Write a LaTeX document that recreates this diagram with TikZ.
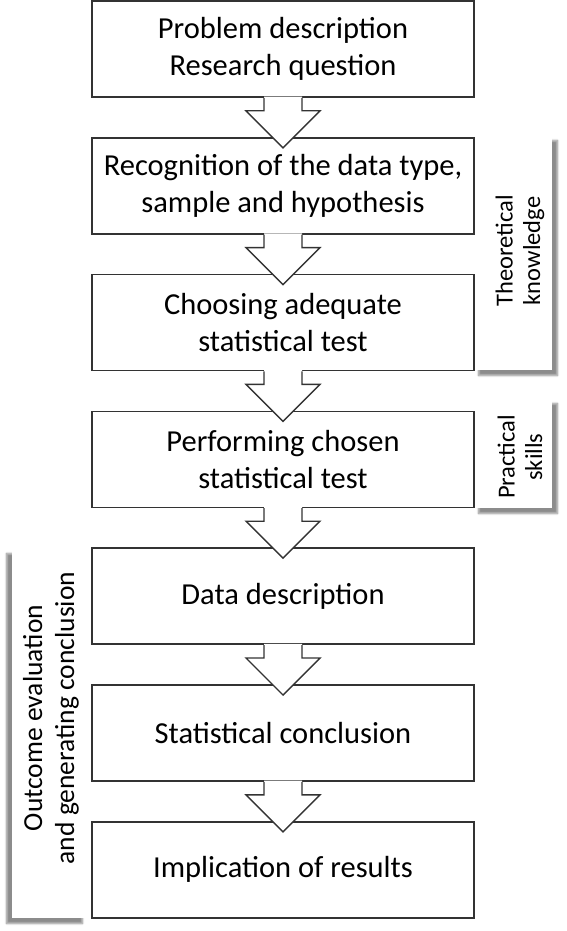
\documentclass[tikz,border=0pt]{standalone}
\usepackage{fontspec}
\setmainfont{Carlito}
\usetikzlibrary{shadows.blur}
\tikzset{
  box/.style={draw=black!80, line width=1.6pt, fill=white, minimum width=382pt,
    minimum height=96pt, align=center, inner sep=0pt,
    font=\fontsize{30.5}{37}\selectfont},
  panel/.style={fill=white, inner sep=0pt,
    blur shadow={shadow xshift=5.5pt, shadow yshift=-5.5pt, shadow blur steps=6, shadow opacity=45}},
  panelL/.style={fill=white, inner sep=0pt,
    blur shadow={shadow xshift=-5.5pt, shadow yshift=-5.5pt, shadow blur steps=6, shadow opacity=45}},
  sidetext/.style={rotate=90, align=center, inner sep=0pt},
  flowarrow/.pic={
    \fill[white] (-19,-1.2) -- (-19,13) -- (-37,13) -- (0,50) -- (37,13) -- (19,13) -- (19,-1.2) -- cycle;
    \draw[black!80, line width=1.4pt, line join=miter]
      (-19,0) -- (-19,13) -- (-37,13) -- (0,50) -- (37,13) -- (19,13) -- (19,0);
  }
}
\begin{document}
\begin{tikzpicture}[x=1pt,y=-1pt]
\useasboundingbox (0,0) rectangle (566,931);
% side panels
\node[panel, minimum width=79pt, minimum height=235pt] (p1) at (512.5,252.5) {};
\node[sidetext, font=\fontsize{24.5}{27.5}\selectfont] (t1) at (520,251) {Theoretical\\knowledge};
\node[panel, minimum width=79pt, minimum height=110pt] (p2) at (512.5,453) {};
\node[sidetext, font=\fontsize{24.5}{27.5}\selectfont] (t2) at (520,457) {Practical\\skills};
\node[panelL, minimum width=76pt, minimum height=370pt] (p3) at (50,733) {};
\node[sidetext, font=\fontsize{27.5}{32}\selectfont] (t3) at (51,718) {Outcome evaluation\\and generating conclusion};
% boxes
\node[box] (b1) at (283,49) {Problem description\\Research question};
\node[box] (b2) at (283,185.8) {Recognition of the data type,\\sample and hypothesis};
\node[box] (b3) at (283,322.6) {Choosing adequate\\statistical test};
\node[box] (b4) at (283,459.4) {Performing chosen\\statistical test};
\node[box] (b5) at (283,596.2) {Data description};
\node[box] (b6) at (283,733) {Statistical conclusion};
\node[box] (b7) at (283,869.8) {Implication of results};
% arrows
\pic at (b1.south) {flowarrow};
\pic at (b2.south) {flowarrow};
\pic at (b3.south) {flowarrow};
\pic at (b4.south) {flowarrow};
\pic at (b5.south) {flowarrow};
\pic at (b6.south) {flowarrow};
\end{tikzpicture}
\end{document}
